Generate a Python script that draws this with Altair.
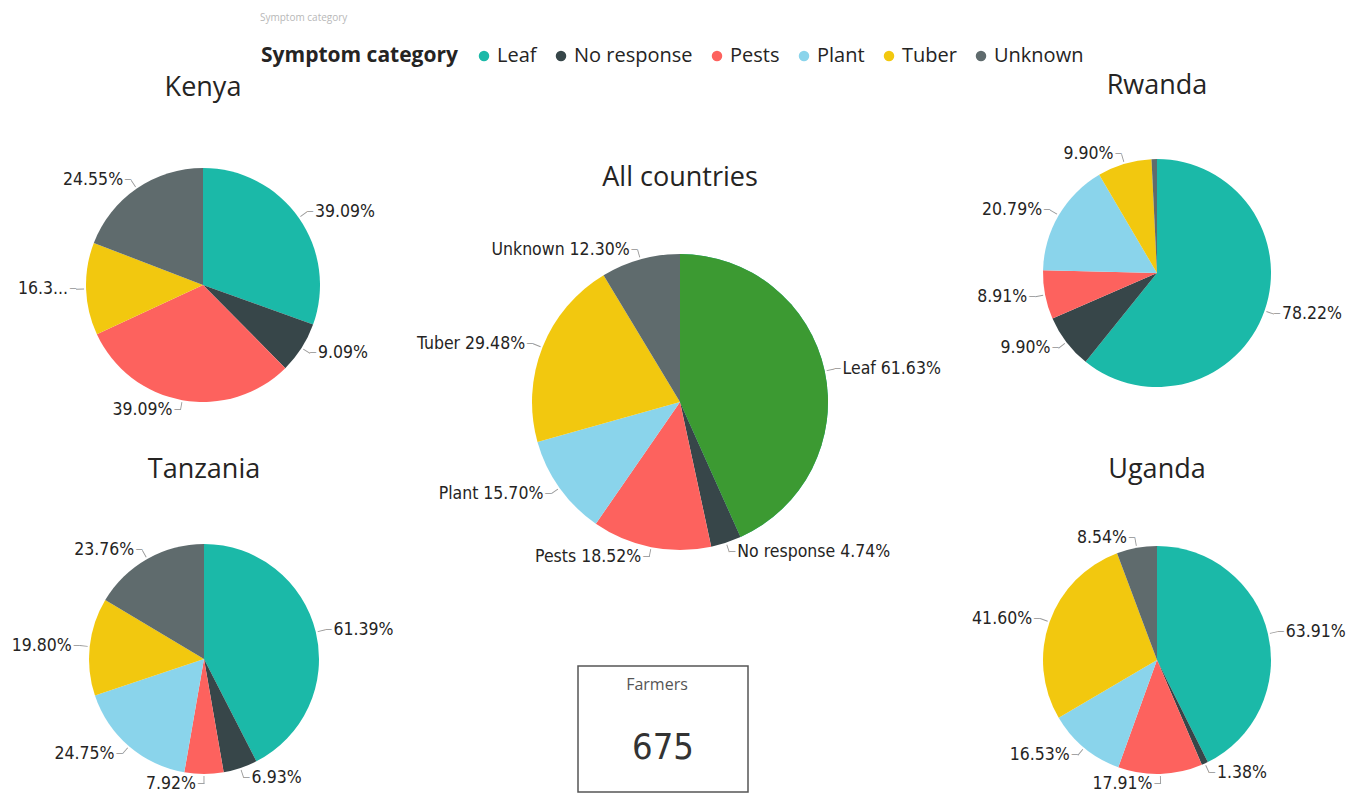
import altair as alt
import pandas as pd

# ---------------- data ----------------
categories = ["Leaf", "No response", "Pests", "Plant", "Tuber", "Unknown"]
colors = ["#1BB9A8", "#374649", "#FD625E", "#8AD4EB", "#F2C80F", "#5F6B6D"]
all_leaf_color = "#3C9A32"

all_values = [61.63, 4.74, 18.52, 15.70, 29.48, 12.30]
all_labels = ["Leaf 61.63%", "No response 4.74%", "Pests 18.52%", "Plant 15.70%", "Tuber 29.48%", "Unknown 12.30%"]

kenya_values = [39.09, 9.09, 39.09, 0.0, 16.36, 24.55]
kenya_labels = ["39.09%", "9.09%", "39.09%", "", "16.3...", "24.55%"]

rwanda_values = [78.22, 9.90, 8.91, 20.79, 9.90, 0.99]
rwanda_labels = ["78.22%", "9.90%", "8.91%", "20.79%", "9.90%", ""]

tanzania_values = [61.39, 6.93, 7.92, 24.75, 19.80, 23.76]
tanzania_labels = ["61.39%", "6.93%", "7.92%", "24.75%", "19.80%", "23.76%"]

uganda_values = [63.91, 1.38, 17.91, 16.53, 41.60, 8.54]
uganda_labels = ["63.91%", "1.38%", "17.91%", "16.53%", "41.60%", "8.54%"]

farmers_count = 675

rows = []
for country, vals, labs in [
    ("All countries", all_values, all_labels),
    ("Kenya", kenya_values, kenya_labels),
    ("Rwanda", rwanda_values, rwanda_labels),
    ("Tanzania", tanzania_values, tanzania_labels),
    ("Uganda", uganda_values, uganda_labels),
]:
    for i, (cat, v, lab) in enumerate(zip(categories, vals, labs)):
        if v > 0:
            rows.append({"country": country, "category": cat, "order": i, "value": v, "label": lab})
df = pd.DataFrame(rows)

# ---------------- layout (page pixel coords) ----------------
M = 8  # page margin
W, H = 1342, 785
LAYOUT = {
    "Kenya": dict(cx=203, cy=285, r=117, ty=88),
    "Tanzania": dict(cx=204, cy=659, r=115, ty=470),
    "All countries": dict(cx=680, cy=402, r=148, ty=178),
    "Rwanda": dict(cx=1157, cy=273, r=114, ty=86),
    "Uganda": dict(cx=1157, cy=660, r=114, ty=470),
}

LABEL_FONT = "DejaVu Sans Condensed"
TITLE_FONT = "Open Sans"
TEXT_COLOR = "#252423"
LEADER_COLOR = "#9a9a9a"
LEAD = 10      # radial length of leader beyond the pie
DASH = 10      # font size of the horizontal leader piece
GAP = 8        # label offset from the leader elbow

theta_scale = alt.Scale(domain=[0, 1])
color_scale = alt.Scale(domain=categories, range=colors)


def base(name):
    return (
        alt.Chart(df)
        .transform_filter(alt.datum.country == name)
        .transform_joinaggregate(total="sum(value)")
        .transform_window(cum="sum(value)", sort=[alt.SortField("order", order="ascending")], frame=[None, 0])
        .transform_calculate(start="(datum.cum - datum.value) / datum.total")
        .transform_calculate(end="datum.cum / datum.total")
        .transform_calculate(mid="(datum.start + datum.end) / 2")
    )


layers = []
first = True
for name, g in LAYOUT.items():
    cx, cy, r, ty = g["cx"] - M, g["cy"] - M, g["r"], g["ty"] - M
    X, Y = alt.value(cx), alt.value(cy)
    b = base(name)
    legend = None
    if first:
        legend = alt.Legend(
            orient="none", legendX=253, legendY=38, direction="horizontal",
            title="Symptom category", titleOrient="left", titleFontSize=21,
            titleFontWeight="bold", titleColor=TEXT_COLOR, titleFont=TITLE_FONT,
            titlePadding=16, titleBaseline="middle", titleAnchor="middle",
            titleLimit=400, labelLimit=300,
            labelFontSize=20, labelColor=TEXT_COLOR, labelFont=TITLE_FONT,
            symbolType="circle", symbolSize=110, symbolStrokeWidth=0,
            columnPadding=14, labelOffset=3,
        )
        first = False
    arcs = b.mark_arc(outerRadius=r, innerRadius=0).encode(
        theta=alt.Theta("start:Q", scale=theta_scale, stack=None),
        theta2="end:Q",
        color=alt.Color("category:N", scale=color_scale, legend=legend),
        x=X, y=Y,
    )
    layers.append(arcs)
    if name == "All countries":
        leaf = b.transform_filter(alt.datum.category == "Leaf").mark_arc(
            outerRadius=r, innerRadius=0, color=all_leaf_color
        ).encode(
            theta=alt.Theta("start:Q", scale=theta_scale, stack=None),
            theta2="end:Q", x=X, y=Y,
        )
        layers.append(leaf)

    labelled = b.transform_filter(alt.datum.label != "")
    half = 0.45 / (2 * 3.14159 * (r + 6))
    leaders = labelled.transform_calculate(
        lo=f"datum.mid - {half}", hi=f"datum.mid + {half}"
    ).mark_arc(innerRadius=r + 2, outerRadius=r + LEAD, color=LEADER_COLOR).encode(
        theta=alt.Theta("lo:Q", scale=theta_scale, stack=None), theta2="hi:Q", x=X, y=Y,
    )
    layers.append(leaders)

    for cond, align, sgn in [("datum.mid < 0.49", "left", 1), ("datum.mid >= 0.49", "right", -1)]:
        part = labelled.transform_filter(cond)
        dash = part.mark_text(
            radius=r + LEAD, align=align, baseline="middle", font="DejaVu Sans Mono",
            fontSize=DASH, color=LEADER_COLOR,
        ).encode(
            theta=alt.Theta("mid:Q", scale=theta_scale, stack=None), x=X, y=Y,
            text=alt.value("─"),
        )
        txt = part.mark_text(
            radius=r + LEAD, align=align, baseline="middle", dx=sgn * GAP,
            font=LABEL_FONT, fontSize=17.5, color=TEXT_COLOR,
        ).encode(
            theta=alt.Theta("mid:Q", scale=theta_scale, stack=None), x=X, y=Y,
            text="label:N",
        )
        layers += [dash, txt]

    title = alt.Chart(pd.DataFrame({"t": [name]})).mark_text(
        font=TITLE_FONT, fontSize=27, color=TEXT_COLOR, align="center", baseline="middle"
    ).encode(x=alt.value(cx), y=alt.value(ty), text="t:N")
    layers.append(title)

# small header text
header = alt.Chart(pd.DataFrame({"t": ["Symptom category"]})).mark_text(
    font=TITLE_FONT, fontSize=10, color="#b8b8b8", align="left", baseline="middle"
).encode(x=alt.value(260 - M), y=alt.value(18 - M), text="t:N")
layers.append(header)

# Farmers card
card_df = pd.DataFrame({"t": ["Farmers"], "n": [str(farmers_count)]})
card = alt.Chart(card_df).mark_rect(fill="white", stroke="#555555", strokeWidth=1.5).encode(
    x=alt.value(578 - M), x2=alt.value(748 - M), y=alt.value(666 - M), y2=alt.value(792 - M)
)
card_title = alt.Chart(card_df).mark_text(
    font=TITLE_FONT, fontSize=16, color="#555555", align="center", baseline="middle"
).encode(x=alt.value(657 - M), y=alt.value(685 - M), text="t:N")
card_value = alt.Chart(card_df).mark_text(
    font=LABEL_FONT, fontSize=36, color="#333333", align="center", baseline="middle"
).encode(x=alt.value(663 - M), y=alt.value(748 - M), text="n:N")
layers += [card, card_title, card_value]

chart = (
    alt.layer(*layers)
    .properties(width=W, height=H, padding=0, autosize=alt.AutoSizeParams(type="none"), background="white")
    .configure_view(stroke=None)
)

chart.save("out.html", embed_options={"renderer": "svg", "actions": False})
